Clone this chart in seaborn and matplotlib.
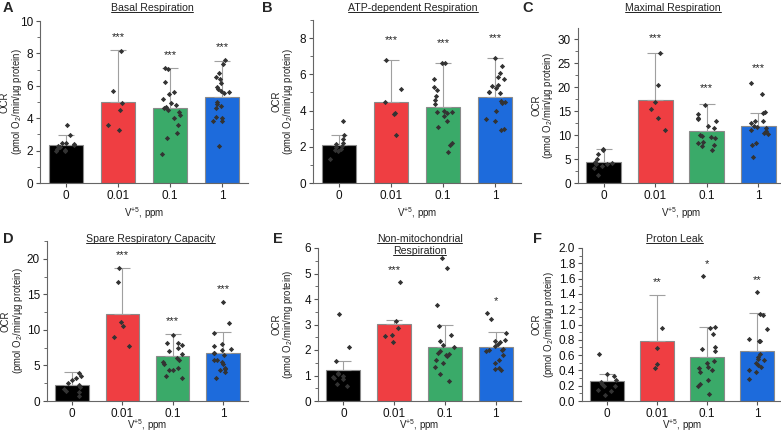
import numpy as np
import pandas as pd
import matplotlib.pyplot as plt
import seaborn as sns
from matplotlib.ticker import MultipleLocator, AutoMinorLocator
from matplotlib.lines import Line2D

sns.set_style("ticks")
plt.rcParams['font.family'] = ['Liberation Sans', 'DejaVu Sans']
plt.rcParams['mathtext.fontset'] = 'custom'
plt.rcParams['mathtext.rm'] = 'Liberation Sans'
plt.rcParams['mathtext.it'] = 'Liberation Sans:italic'

groups = ["0", "0.01", "0.1", "1"]
colors = ["#000000", "#EF3E42", "#3AAA69", "#1D6BDC"]

# A - basal respiration
basal_mean = [2.33, 5.02, 4.63, 5.33]
basal_top = [2.94, 8.18, 7.12, 7.56]
basal_pts = [
    [3.55, 2.95, 2.5, 2.45, 2.4, 2.35, 2.3, 2.2, 2.1, 2.05, 2.0, 1.95],
    [8.17, 5.7, 4.92, 4.49, 3.6, 3.27],
    [7.1, 7.05, 6.25, 5.6, 5.5, 5.2, 4.95, 4.8, 4.7, 4.6, 4.5, 4.4, 4.2, 4.0, 3.6, 3.1, 2.8, 1.8],
    [7.6, 7.35, 6.8, 6.55, 6.4, 6.2, 5.95, 5.8, 5.7, 5.6, 5.55, 5.0, 4.9, 4.75, 4.6, 4.1, 4.0, 3.8, 3.8, 2.3],
]
basal_stars = ["", "***", "***", "***"]

# B - ATP-dependent respiration
atp_mean = [2.11, 4.47, 4.19, 4.74]
atp_top = [2.67, 6.8, 6.64, 6.91]
atp_pts = [
    [3.42, 2.65, 2.45, 2.2, 2.15, 2.05, 2.0, 1.9, 1.8, 1.75, 1.3],
    [6.8, 5.2, 4.5, 3.85, 3.8, 2.65],
    [6.62, 6.6, 5.75, 5.3, 5.15, 4.8, 4.6, 4.35, 4.0, 3.9, 3.9, 3.85, 3.7, 3.4, 3.1, 2.2, 2.1, 1.7],
    [6.9, 6.45, 6.1, 5.85, 5.75, 5.4, 5.35, 5.25, 5.05, 5.0, 4.95, 4.55, 4.5, 4.4, 4.0, 3.55, 3.4, 3.0, 2.9],
]
atp_stars = ["", "***", "***", "***"]

# C - maximal respiration
max_mean = [4.47, 17.45, 10.9, 12.0]
max_top = [7.05, 27.1, 16.5, 14.7]
max_pts = [
    [7.2, 6.8, 6.0, 5.0, 4.3, 4.1, 4.0, 3.9, 3.6, 3.1, 1.6],
    [27.1, 20.5, 16.9, 15.4, 13.6, 11.1],
    [16.4, 14.4, 13.5, 13.4, 13.0, 12.0, 11.5, 10.1, 9.8, 9.6, 9.5, 8.6, 8.3, 7.9, 7.7, 6.8],
    [20.8, 18.7, 14.9, 14.7, 13.0, 13.0, 12.6, 12.0, 11.8, 11.4, 11.0, 10.9, 10.5, 10.2, 8.3, 8.0, 5.5],
]
max_stars = ["", "***", "***", "***"]

# D - spare respiratory capacity
spare_mean = [2.29, 12.3, 6.27, 6.68]
spare_top = [4.07, 18.75, 9.38, 9.7]
spare_pts = [
    [4.0, 3.55, 3.3, 2.9, 2.5, 2.2, 1.9, 1.7, 1.4, 1.2, 0.7],
    [18.7, 16.8, 11.1, 10.5, 9.0, 7.8],
    [9.3, 8.2, 8.1, 7.9, 7.4, 7.0, 6.6, 6.1, 5.8, 5.5, 5.2, 4.7, 4.4, 4.3, 3.5, 3.2],
    [13.9, 11.0, 9.6, 8.0, 7.8, 7.3, 7.2, 6.8, 6.7, 6.5, 5.8, 5.7, 5.5, 5.2, 4.7, 4.5, 4.4, 4.1, 3.3],
]
spare_stars = ["", "***", "***", "***"]

# E - non-mitochondrial respiration
nonmito_mean = [1.23, 3.02, 2.13, 2.13]
nonmito_top = [1.56, 3.17, 2.97, 2.69]
nonmito_pts = [
    [3.4, 2.1, 1.55, 1.1, 1.05, 1.0, 0.95, 0.9, 0.85, 0.65, 0.6],
    [4.65, 3.15, 2.85, 2.6, 2.55, 2.3],
    [5.6, 5.2, 3.75, 2.95, 2.6, 2.35, 2.2, 2.1, 1.95, 1.9, 1.85, 1.8, 1.75, 1.6, 1.5, 1.35, 1.05, 0.8],
    [3.45, 3.2, 2.65, 2.4, 2.35, 2.3, 2.25, 2.15, 2.05, 2.0, 2.0, 1.95, 1.8, 1.6, 1.5, 1.3, 1.25, 1.2],
]
nonmito_stars = ["", "***", "", "*"]

# F - proton leak
leak_mean = [0.255, 0.79, 0.58, 0.66]
leak_top = [0.35, 1.39, 0.97, 1.15]
leak_pts = [
    [0.61, 0.35, 0.33, 0.27, 0.25, 0.22, 0.2, 0.19, 0.15, 0.13, 0.08],
    [0.95, 0.69, 0.48, 0.43],
    [1.63, 0.97, 0.96, 0.87, 0.70, 0.68, 0.66, 0.52, 0.50, 0.45, 0.43, 0.41, 0.38, 0.27, 0.22, 0.20, 0.09],
    [1.42, 1.14, 1.12, 0.94, 0.81, 0.79, 0.78, 0.62, 0.57, 0.55, 0.54, 0.50, 0.47, 0.45, 0.40, 0.38, 0.29],
]
leak_stars = ["", "**", "*", "**"]

ug = "(pmol O$_2$/min/µg protein)"
mg = "(pmol O$_2$/min/mg protein)"

# letter, titles, data..., ymax, major step, unit, axes box px (l, t, r, b), star pad,
# letter x px, ylabel offset px, title shift px
panels = [
    ("A", ["Basal Respiration"], basal_mean, basal_top, basal_pts, basal_stars, 10, 2, ug,
     (40, 21, 248, 183), 0.08, 3, 16, 8),
    ("B", ["ATP-dependent Respiration"], atp_mean, atp_top, atp_pts, atp_stars, 9, 2, ug,
     (313, 20, 521, 183), 0.12, 262, 18, -4),
    ("C", ["Maximal Respiration"], max_mean, max_top, max_pts, max_stars, 32.4, 5, ug,
     (578, 28, 784, 183), 0.1, 522, 23, -8),
    ("D", ["Spare Respiratory Capacity"], spare_mean, spare_top, spare_pts, spare_stars, 22.5, 5, ug,
     (47, 241, 248, 401), 0.08, 3, 22, 3),
    ("E", ["Non-mitochondrial", "Respiration"], nonmito_mean, nonmito_top, nonmito_pts, nonmito_stars, 6, 1, mg,
     (318, 248, 521, 401), 0.08, 273, 23, 0),
    ("F", ["Proton Leak"], leak_mean, leak_top, leak_pts, leak_stars, 2, 0.2, ug,
     (582, 248, 782, 401), 0.08, 533, 26, -8),
]

W, H = 781, 432
fig = plt.figure(figsize=(W / 100, H / 100), dpi=100)
np.random.seed(3)

titles = []
for letter, ttl, mean, top, pts, stars, ymax, step, unit, box, pad, lx, yoff, tshift in panels:
    l, t, r, b = box
    ax = fig.add_axes([l / W, 1 - b / H, (r - l) / W, (b - t) / H])

    bars = pd.DataFrame({"dose": groups, "ocr": mean})
    sns.barplot(data=bars, x="dose", y="ocr", hue="dose", palette=colors, legend=False, saturation=1,
                width=0.67, edgecolor="#8a8a8a", linewidth=0.8, ax=ax, zorder=1)

    sd = np.array(top) - np.array(mean)
    ax.errorbar(range(4), mean, yerr=[np.zeros(4), sd], fmt="none", ecolor="#a0a0a0",
                elinewidth=0.8, capsize=5.5, capthick=0.8, zorder=2)

    long = pd.DataFrame([(g, v) for g, vals in zip(groups, pts) for v in vals], columns=["dose", "ocr"])
    sns.stripplot(data=long, x="dose", y="ocr", order=groups, color="#333333", marker="D",
                  size=2.7, jitter=0.2, linewidth=0, ax=ax, zorder=3)

    for i, s in enumerate(stars):
        if s:
            yy = max(top[i], max(pts[i])) + pad * ymax
            ax.text(i, yy, s, ha="center", va="center", fontsize=8, color="#222222")

    ax.set_xlim(-0.5, 3.5)
    ax.set_ylim(0, ymax)
    ax.yaxis.set_major_locator(MultipleLocator(step))
    ax.yaxis.set_minor_locator(AutoMinorLocator(2))
    if letter == "F":
        ax.yaxis.set_major_formatter(plt.FormatStrFormatter("%.1f"))
    ax.tick_params(axis="both", labelsize=8.5, colors="#555555", labelcolor="#111111",
                   length=3, width=0.8, pad=2)
    ax.tick_params(axis="y", which="minor", length=2, width=0.6, colors="#555555")
    ax.set_xlabel("V$^{+5}$, ppm", fontsize=7, color="#222222")
    ax.set_ylabel("OCR\n" + unit, fontsize=6.9, color="#222222", linespacing=1.0)
    ax.yaxis.set_label_coords(-yoff / (r - l), 0.5)
    xoff = 22 if t < 100 else 16
    ax.xaxis.set_label_coords(0.5, -xoff / (b - t))
    sns.despine(ax=ax)
    for sp in ["left", "bottom"]:
        ax.spines[sp].set_color("#666666")
        ax.spines[sp].set_linewidth(0.8)

    # panel letter and underlined title
    row_y = 8 if t < 100 else 239
    fig.text(lx / W, 1 - row_y / H, letter, fontsize=10.5, fontweight="bold", va="center", ha="left")
    cx = (l + r) / 2 + tshift
    for k, line in enumerate(ttl):
        tt = fig.text(cx / W, 1 - (row_y + 12 * k) / H, line, fontsize=7.6, ha="center", va="center",
                      color="#222222")
        titles.append(tt)

fig.canvas.draw()
rend = fig.canvas.get_renderer()
for tt in titles:
    bb = tt.get_window_extent(rend)
    y = (bb.y0 + 1) / H
    fig.add_artist(Line2D([bb.x0 / W, bb.x1 / W], [y, y], color="#222222", linewidth=0.7))

plt.savefig("out.png", dpi=100)
